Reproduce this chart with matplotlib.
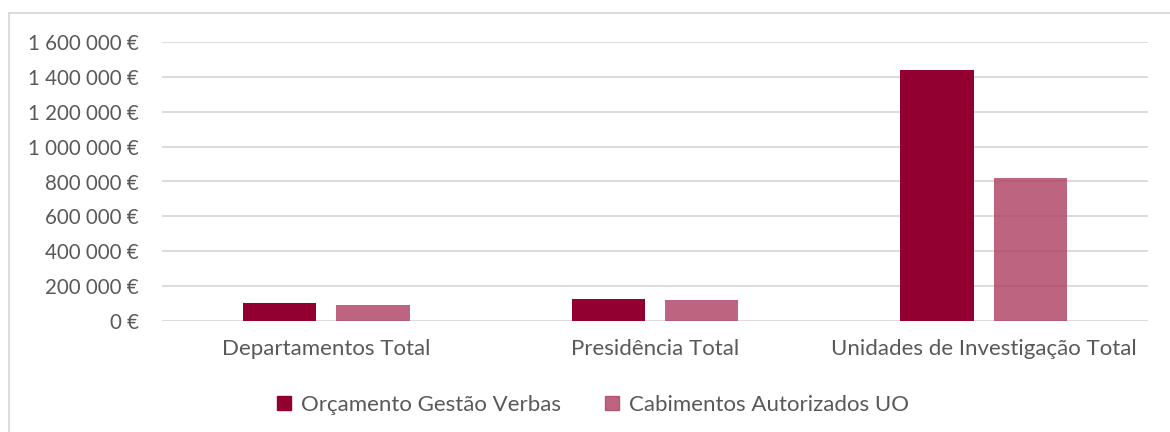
import matplotlib
matplotlib.use("Agg")
import matplotlib.pyplot as plt
from matplotlib.ticker import FuncFormatter
from matplotlib.lines import Line2D
from matplotlib.patches import Patch
import numpy as np

categories = ["Departamentos Total", "Presidência Total", "Unidades de Investigação Total"]
orcamento = [101000, 124000, 1442000]
cabimentos = [90000, 119000, 822000]
series_names = ["Orçamento Gestão Verbas", "Cabimentos Autorizados UO"]

plt.rcParams['font.family'] = ['Lato', 'DejaVu Sans']
txt = '#595959'
c1 = '#910030'
c2 = '#AE4264'
a2 = 0.82

fig = plt.figure(figsize=(11.7, 4.32), dpi=100)
W, H = 1170, 432
ax = fig.add_axes([162 / W, 1 - 321 / H, (1148 - 162) / W, (321 - 42) / H])

x = np.arange(len(categories))
bw = 0.224
off = 0.142
ax.bar(x - off, orcamento, bw, color=c1, zorder=3)
ax.bar(x + off, cabimentos, bw, color=c2, alpha=a2, zorder=3)

ax.set_xlim(-0.5, 2.5)
ax.set_ylim(0, 1600000)
ax.set_yticks(np.arange(0, 1600001, 200000))
ax.yaxis.set_major_formatter(FuncFormatter(lambda v, p: f"{int(v):,}".replace(",", " ") + " €"))
ax.grid(axis='y', color='#D9D9D9', linewidth=1.3, zorder=0)
for s in ax.spines.values():
    s.set_visible(False)
ax.tick_params(axis='both', length=0, colors=txt)
ax.tick_params(axis='y', pad=16.5, labelsize=14.8)
ax.tick_params(axis='x', pad=13, labelsize=16)
ax.set_xticks(x)
ax.set_xticklabels(categories)

handles = [Patch(color=c1), Patch(color=c2, alpha=a2)]
fig.legend(handles, series_names, loc='center', bbox_to_anchor=(593 / W, 1 - 405 / H),
           ncol=2, frameon=False, fontsize=16, labelcolor=txt, handlelength=0.62,
           handleheight=0.62, handletextpad=0.45, columnspacing=2.0)

# chart border
fig.add_artist(Line2D([9 / W, 9 / W], [0, 1 - 13 / H], transform=fig.transFigure, color='#D9D9D9', lw=1.3))
fig.add_artist(Line2D([9 / W, 1], [1 - 13 / H, 1 - 13 / H], transform=fig.transFigure, color='#D9D9D9', lw=1.3))

fig.savefig('out.png', dpi=100)
